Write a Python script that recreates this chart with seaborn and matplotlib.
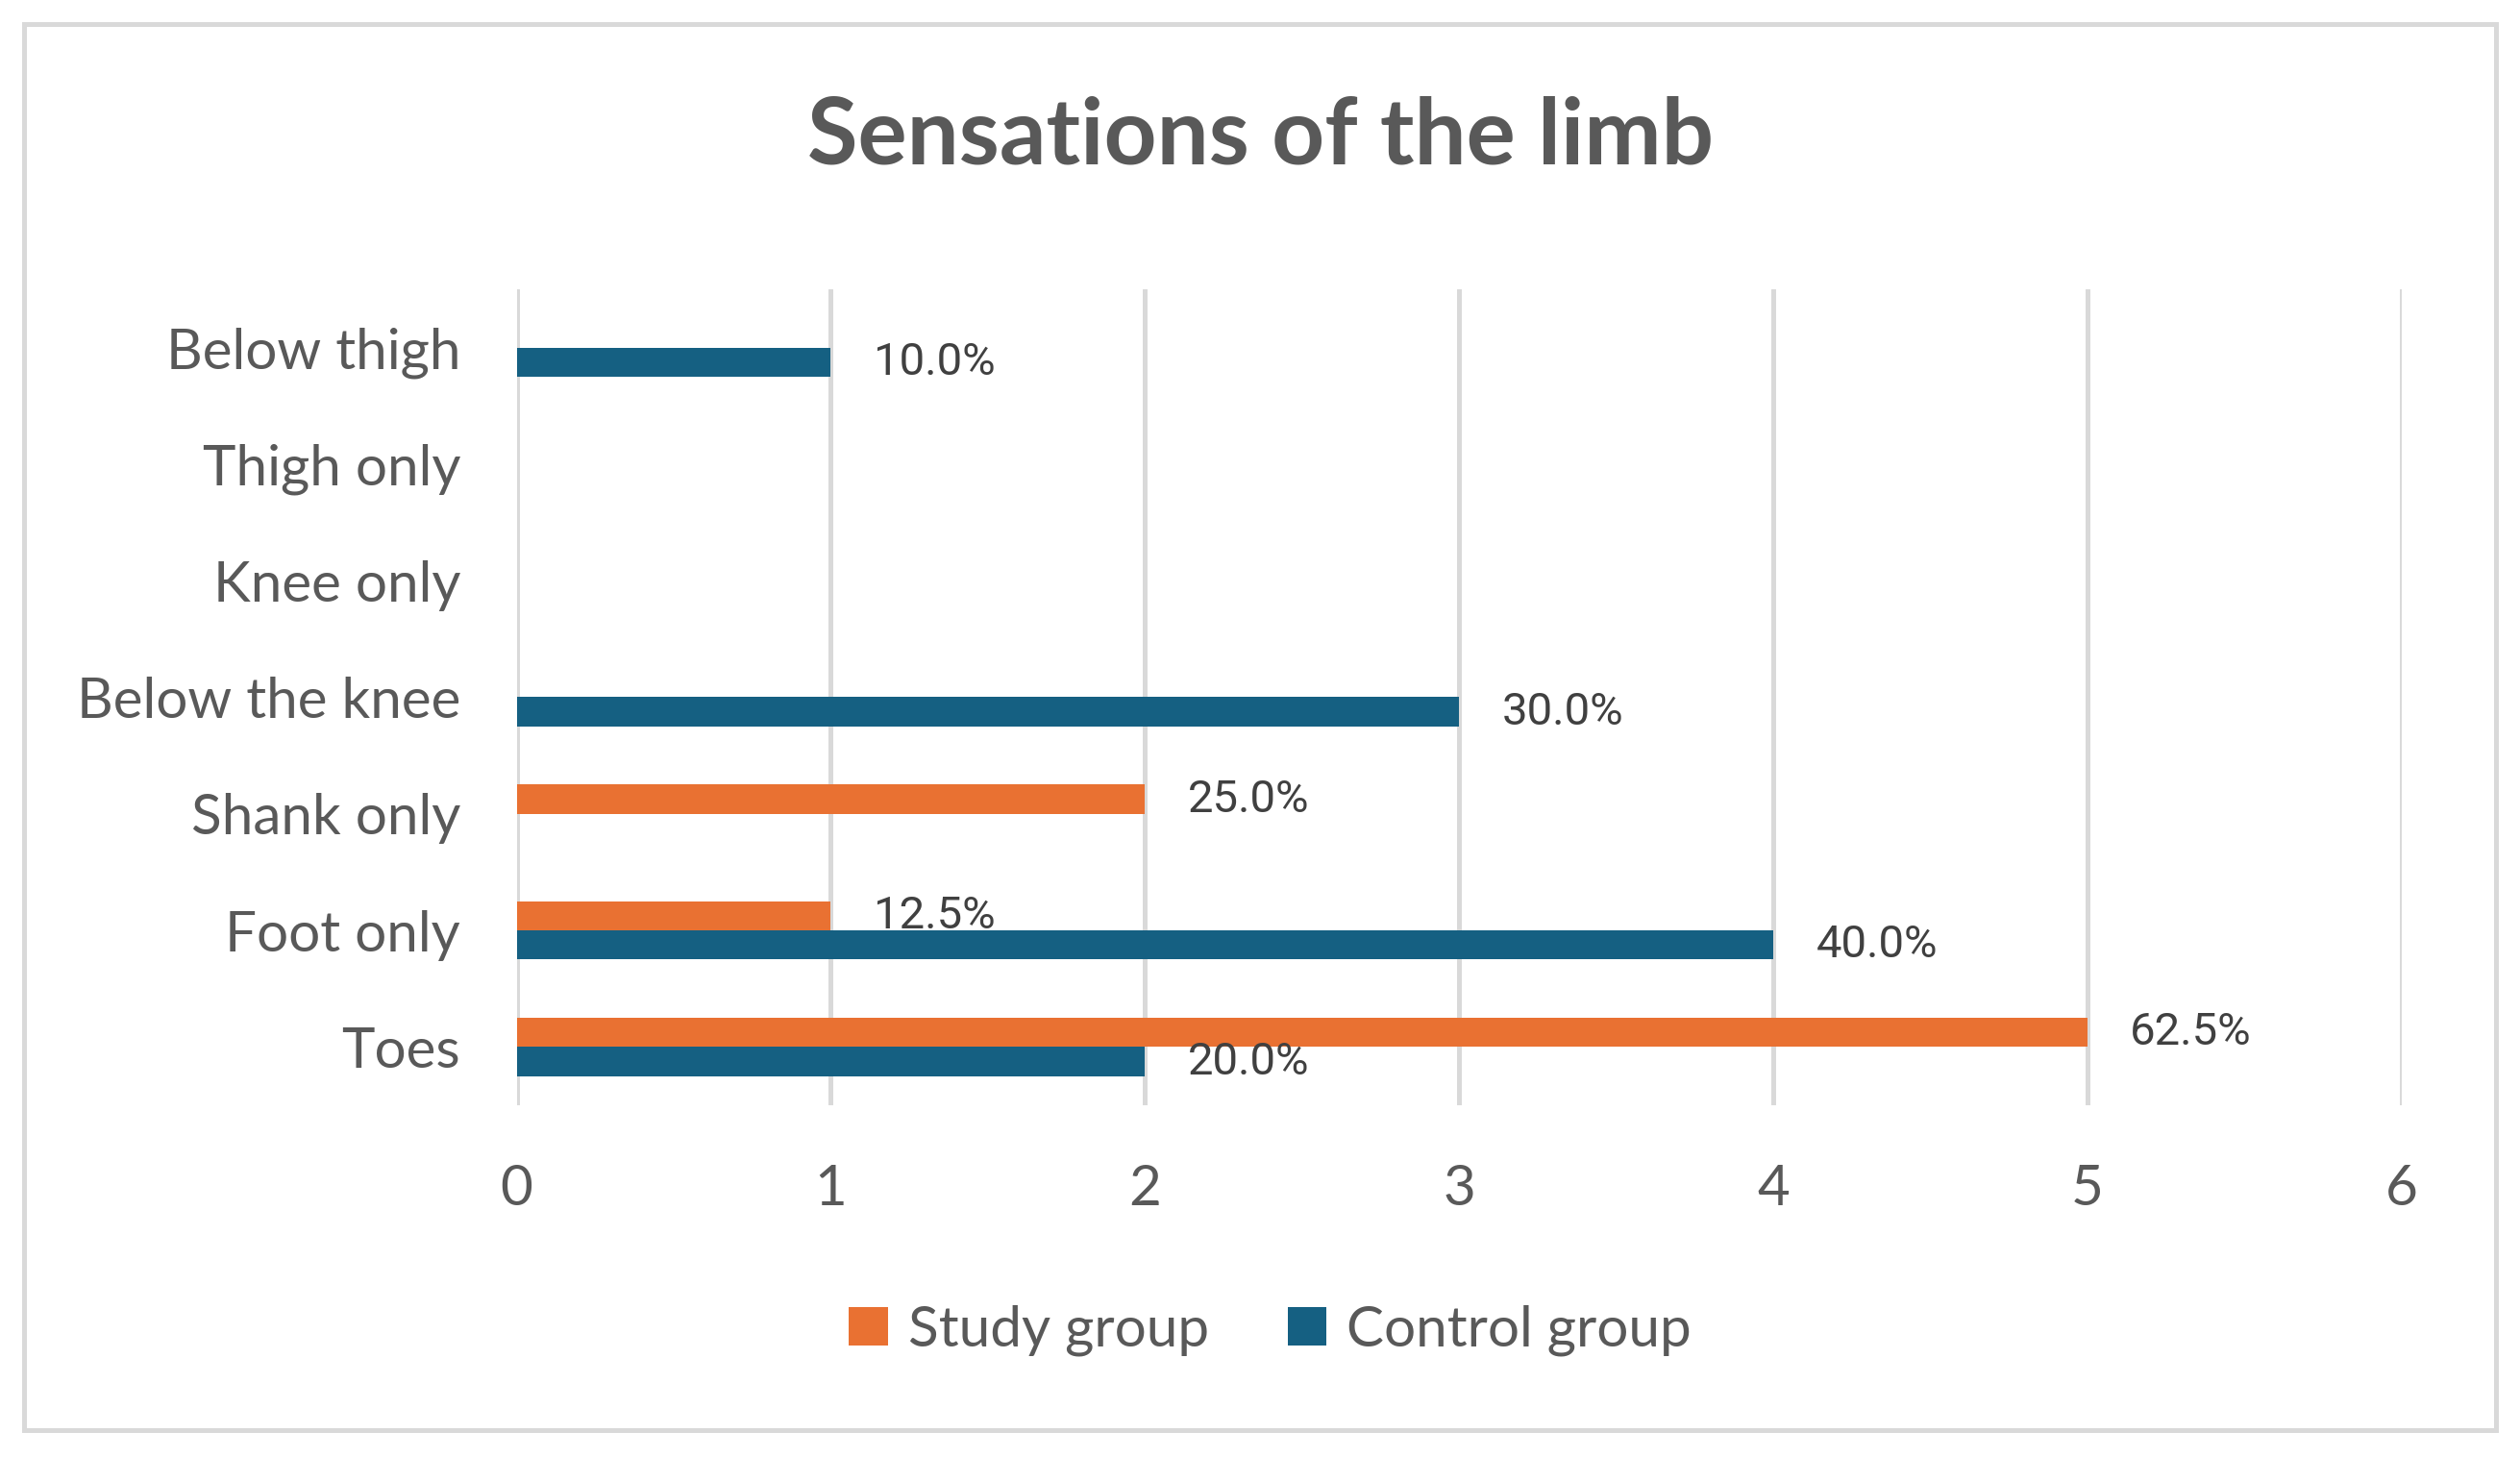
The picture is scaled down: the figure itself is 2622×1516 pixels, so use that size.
import pandas as pd
import seaborn as sns
from matplotlib import pyplot as plt
from matplotlib.patches import Rectangle

# data
categories = ["Below thigh", "Thigh only", "Knee only", "Below the knee",
              "Shank only", "Foot only", "Toes"]
study_counts = [0, 0, 0, 0, 2, 1, 5]
control_counts = [1, 0, 0, 3, 0, 4, 2]
study_pct = ["", "", "", "", "25.0%", "12.5%", "62.5%"]
control_pct = ["10.0%", "", "", "30.0%", "", "40.0%", "20.0%"]
groups = ["Study group", "Control group"]
colors = ["#E97132", "#156082"]

df = pd.DataFrame({
    "Sensation": categories * 2,
    "Count": study_counts + control_counts,
    "Group": [groups[0]] * len(categories) + [groups[1]] * len(categories),
})

sns.set_style("white")
plt.rcParams['font.family'] = ['Lato', 'DejaVu Sans']
text_col = "#595959"
grid_col = "#D9D9D9"

fig = plt.figure(figsize=(13.11, 7.58), dpi=200)
ax = fig.add_axes([0.205, 0.2414, 0.748, 0.5601])

sns.barplot(data=df, x="Count", y="Sensation", hue="Group", order=categories,
            hue_order=groups, palette=colors, orient="h", width=0.5,
            saturation=1, errorbar=None, linewidth=0, ax=ax)

# data labels
for cont, labs in zip(ax.containers, [study_pct, control_pct]):
    ax.bar_label(cont, labels=labs, padding=16, fontsize=17, color="#404040",
                 family=['Roboto', 'DejaVu Sans'])

ax.set_xlim(0, 6)
ax.set_ylim(6.5, -0.5)
ax.set_xticks(range(7))
ax.xaxis.grid(True, color=grid_col, linewidth=1.8)
ax.set_axisbelow(True)
for s in ax.spines.values():
    s.set_visible(False)
ax.tick_params(axis="both", length=0, labelsize=21, labelcolor=text_col)
ax.tick_params(axis="x", pad=22)
ax.tick_params(axis="y", pad=21)
ax.set_xlabel("")
ax.set_ylabel("")

handles, labels = ax.get_legend_handles_labels()
ax.legend(handles, labels, loc="center", bbox_to_anchor=(0.504, 0.087),
          bbox_transform=fig.transFigure, ncol=2, frameon=False,
          fontsize=21, labelcolor=text_col, handlelength=0.7,
          handleheight=0.7, handletextpad=0.35, columnspacing=1.4)

fig.text(0.5, 0.906, "Sensations of the limb", ha="center", va="center",
         fontsize=34.5, fontweight="bold", color=text_col)

# outer chart border
fig.patches.append(Rectangle((0.0095, 0.0185), 0.981, 0.965, fill=False,
                             edgecolor=grid_col, linewidth=1.8,
                             transform=fig.transFigure, figure=fig))

plt.savefig("out.png", dpi=200)
plt.close()
